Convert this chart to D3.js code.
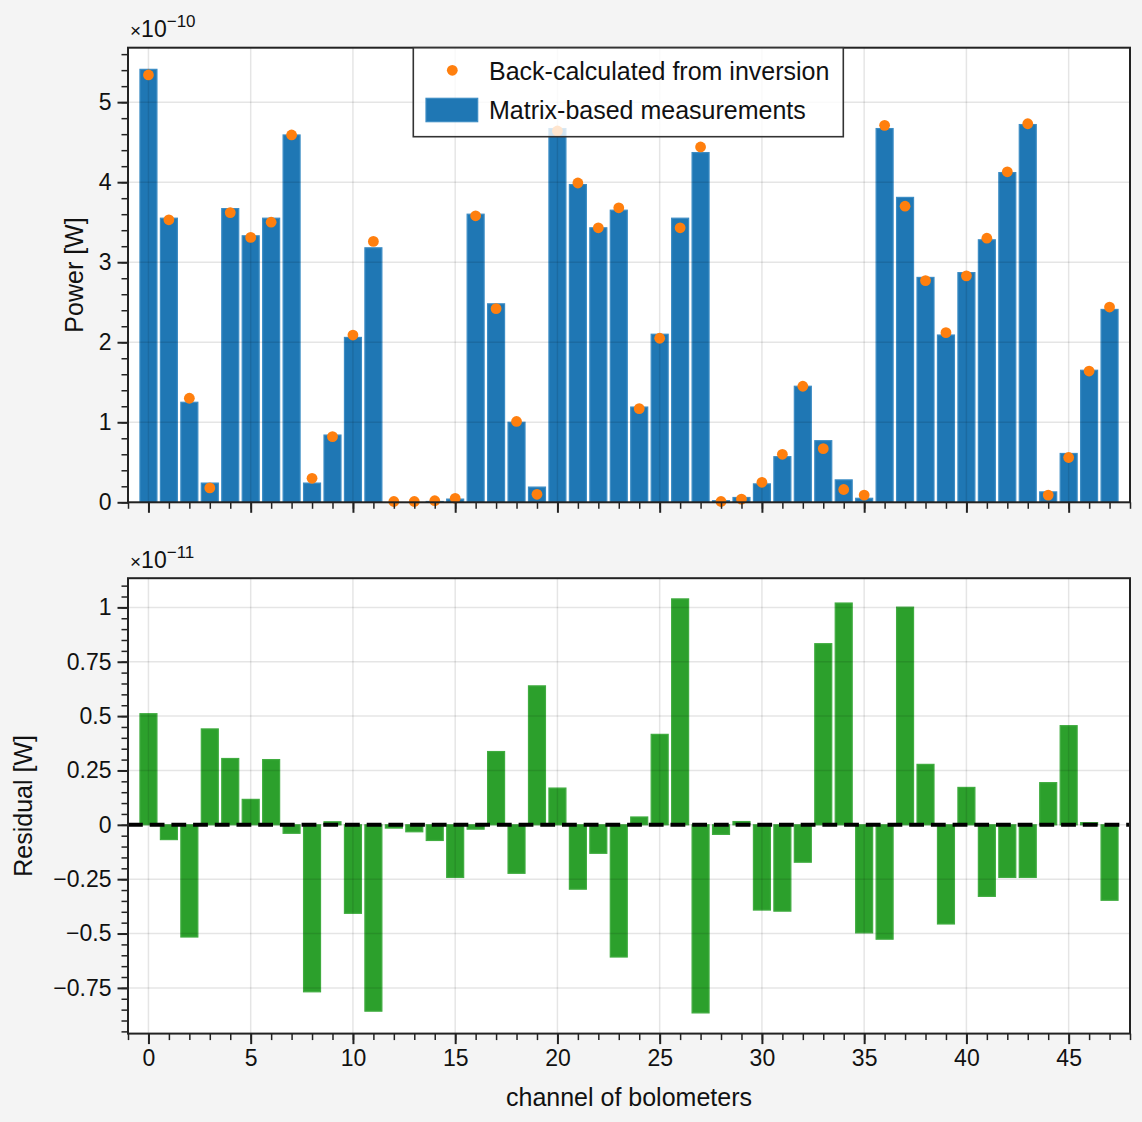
<!DOCTYPE html>
<html>
<head>
<meta charset="utf-8">
<script src="https://cdn.jsdelivr.net/npm/d3@7"></script>
<style>
  body { margin: 0; background: #f4f4f4; }
  svg { display: block; font-family: "Liberation Sans", Arial, sans-serif; }
</style>
</head>
<body>
<div id="main"></div>
<script>
// channel numbers of the bolometers
var channels = d3.range(48);

// matrix-based measurements, x 1e-10 W
var measured = [5.41, 3.55, 1.25, 0.24, 3.67, 3.33, 3.55, 4.59, 0.24, 0.84, 2.06, 3.18,
  0.0, 0.0, 0.01, 0.04, 3.60, 2.48, 1.00, 0.19, 4.67, 3.97, 3.43, 3.65,
  1.19, 2.10, 3.55, 4.37, 0.02, 0.06, 0.23, 0.57, 1.45, 0.77, 0.28, 0.05,
  4.67, 3.81, 2.81, 2.09, 2.87, 3.28, 4.12, 4.72, 0.13, 0.61, 1.65, 2.41];

// back-calculated from inversion, x 1e-10 W
var backCalc = [5.34, 3.53, 1.30, 0.18, 3.62, 3.31, 3.50, 4.59, 0.30, 0.82, 2.09, 3.26,
  0.01, 0.01, 0.02, 0.05, 3.58, 2.42, 1.01, 0.10, 4.64, 3.99, 3.43, 3.68,
  1.17, 2.05, 3.43, 4.44, 0.01, 0.04, 0.25, 0.60, 1.45, 0.67, 0.16, 0.09,
  4.71, 3.70, 2.77, 2.12, 2.83, 3.30, 4.13, 4.73, 0.09, 0.56, 1.64, 2.44];

// residual, x 1e-11 W
var residual = [0.511, -0.068, -0.516, 0.441, 0.305, 0.117, 0.300, -0.039, -0.768, 0.014, -0.407, -0.857,
  -0.015, -0.032, -0.072, -0.242, -0.020, 0.337, -0.223, 0.639, 0.169, -0.296, -0.131, -0.608,
  0.036, 0.416, 1.039, -0.865, -0.044, 0.015, -0.392, -0.397, -0.172, 0.833, 1.020, -0.497,
  -0.526, 1.001, 0.278, -0.456, 0.172, -0.329, -0.242, -0.242, 0.194, 0.456, 0.010, -0.347];

var xTicks = [0, 5, 10, 15, 20, 25, 30, 35, 40, 45];
var topTicks = [0, 1, 2, 3, 4, 5];
var botTicks = [-0.75, -0.5, -0.25, 0, 0.25, 0.5, 0.75, 1];
var botTickLabels = ["\u22120.75", "\u22120.5", "\u22120.25", "0", "0.25", "0.5", "0.75", "1"];

var W = 1142, H = 1122;
var left = 128, right = 1130;
var top1 = 47.7, bot1 = 502.3;
var top2 = 578.2, bot2 = 1033.6;

var svg = d3.select("#main").append("svg")
  .attr("width", W).attr("height", H);
svg.append("rect").attr("width", W).attr("height", H).attr("fill", "#f4f4f4");

var x = d3.scaleLinear().domain([-1, 48]).range([left, right]);
var barW = 0.83;

var y1 = d3.scaleLinear().domain([0, d3.max(measured) * 1.05]).range([bot1, top1]);
var rmin = d3.min(residual), rmax = d3.max(residual), pad = (rmax - rmin) * 0.05;
var y2 = d3.scaleLinear().domain([rmin - pad, rmax + pad]).range([bot2, top2]);

function drawGrid(g, y, yt) {
  g.append("g").selectAll("line").data(xTicks).enter().append("line")
    .attr("x1", d => x(d)).attr("x2", d => x(d))
    .attr("y1", y.range()[0]).attr("y2", y.range()[1])
    .attr("stroke", "#000").attr("stroke-opacity", 0.1).attr("stroke-width", 1.5);
  g.append("g").selectAll("line").data(yt).enter().append("line")
    .attr("x1", left).attr("x2", right)
    .attr("y1", d => y(d)).attr("y2", d => y(d))
    .attr("stroke", "#000").attr("stroke-opacity", 0.1).attr("stroke-width", 1.5);
}

function drawAxes(g, y, yt, ylabels, minorY, showX) {
  var yb = y.range()[0];
  var xMinor = g.append("g").attr("transform", "translate(0," + yb + ")")
    .call(d3.axisBottom(x).tickValues(d3.range(-1, 49)).tickSize(6.5).tickFormat(""));
  var xMajor = g.append("g").attr("transform", "translate(0," + yb + ")")
    .call(d3.axisBottom(x).tickValues(xTicks).tickSize(10.5).tickPadding(6)
      .tickFormat(showX ? d3.format("d") : ""));
  var yMinor = g.append("g").attr("transform", "translate(" + left + ",0)")
    .call(d3.axisLeft(y).tickValues(minorY).tickSize(6.5).tickFormat(""));
  var yMajor = g.append("g").attr("transform", "translate(" + left + ",0)")
    .call(d3.axisLeft(y).tickValues(yt).tickSize(10.5).tickPadding(6)
      .tickFormat((d, i) => ylabels[i]));
  [xMinor, xMajor, yMinor, yMajor].forEach(a => {
    a.select(".domain").remove();
    a.selectAll("line").attr("stroke", "#222");
    a.selectAll("text").attr("fill", "#111").style("font-size", "23px")
      .style("font-family", "Liberation Sans, Arial, sans-serif");
  });
  [xMinor, yMinor].forEach(a => a.selectAll("line").attr("stroke-width", 1.5));
  [xMajor, yMajor].forEach(a => a.selectAll("line").attr("stroke-width", 2));
  // frame
  g.append("rect").attr("x", left).attr("y", y.range()[1])
    .attr("width", right - left).attr("height", y.range()[0] - y.range()[1])
    .attr("fill", "none").attr("stroke", "#222").attr("stroke-width", 2);
}

function offsetText(g, yy, exp) {
  var t = g.append("text").attr("x", 130).attr("y", yy).attr("fill", "#111")
    .style("font-size", "23px");
  t.append("tspan").text("\u00d7").style("font-size", "19px");
  t.append("tspan").text("10").style("font-size", "23px");
  t.append("tspan").attr("dy", -10).style("font-size", "17px").text(exp);
}

// ---------- top panel ----------
var g1 = svg.append("g");
g1.append("rect").attr("x", left).attr("y", top1).attr("width", right - left)
  .attr("height", bot1 - top1).attr("fill", "#fff");

g1.selectAll(".bar").data(measured).enter().append("rect")
  .attr("class", "bar")
  .attr("x", (d, i) => x(channels[i] - barW / 2))
  .attr("width", x(barW) - x(0))
  .attr("y", d => y1(d))
  .attr("height", d => y1(0) - y1(d))
  .attr("fill", "#1f77b4")
  .attr("stroke", "#3c8cc4").attr("stroke-width", 1.2);

drawGrid(g1, y1, topTicks);

g1.selectAll(".dot").data(backCalc).enter().append("circle")
  .attr("cx", (d, i) => x(channels[i]))
  .attr("cy", d => y1(d))
  .attr("r", 5.4)
  .attr("fill", "#ff7f0e");

drawAxes(g1, y1, topTicks, topTicks.map(String), d3.range(0, 5.61, 0.2), false);
offsetText(g1, 37, "\u221210");

g1.append("text").attr("transform", "translate(83," + (top1 + bot1) / 2 + ") rotate(-90)")
  .attr("text-anchor", "middle").attr("fill", "#111").style("font-size", "25px")
  .text("Power [W]");

// legend
var lg = g1.append("g");
lg.append("rect").attr("x", 413.3).attr("y", top1).attr("width", 430).attr("height", 89)
  .attr("fill", "#fff").attr("fill-opacity", 0.8)
  .attr("stroke", "#333").attr("stroke-width", 1.6);
lg.append("circle").attr("cx", 452.3).attr("cy", 70.3).attr("r", 5.4).attr("fill", "#ff7f0e");
lg.append("text").attr("x", 489).attr("y", 80).attr("fill", "#111").style("font-size", "25px")
  .text("Back-calculated from inversion");
lg.append("rect").attr("x", 426).attr("y", 98.3).attr("width", 51.7).attr("height", 23.4)
  .attr("fill", "#1f77b4").attr("stroke", "#3c8cc4").attr("stroke-width", 1.2);
lg.append("text").attr("x", 489).attr("y", 119).attr("fill", "#111").style("font-size", "25px")
  .text("Matrix-based measurements");

// ---------- bottom panel ----------
var g2 = svg.append("g");
g2.append("rect").attr("x", left).attr("y", top2).attr("width", right - left)
  .attr("height", bot2 - top2).attr("fill", "#fff");

g2.selectAll(".rbar").data(residual).enter().append("rect")
  .attr("class", "rbar")
  .attr("x", (d, i) => x(channels[i] - barW / 2))
  .attr("width", x(barW) - x(0))
  .attr("y", d => y2(Math.max(0, d)))
  .attr("height", d => Math.abs(y2(d) - y2(0)))
  .attr("fill", "#2ca02c")
  .attr("stroke", "#40ac40").attr("stroke-width", 1.2);

drawGrid(g2, y2, botTicks);

g2.append("line").attr("x1", left).attr("x2", right)
  .attr("y1", y2(0)).attr("y2", y2(0))
  .attr("stroke", "#000").attr("stroke-width", 4)
  .attr("stroke-dasharray", "14.8,6.9");

drawAxes(g2, y2, botTicks, botTickLabels, d3.range(-0.95, 1.111, 0.05), true);
offsetText(g2, 568.3, "\u221211");

g2.append("text").attr("transform", "translate(32," + (top2 + bot2) / 2 + ") rotate(-90)")
  .attr("text-anchor", "middle").attr("fill", "#111").style("font-size", "25px")
  .text("Residual [W]");

g2.append("text").attr("x", (left + right) / 2).attr("y", 1106)
  .attr("text-anchor", "middle").attr("fill", "#111").style("font-size", "25px")
  .text("channel of bolometers");
</script>
</body>
</html>
